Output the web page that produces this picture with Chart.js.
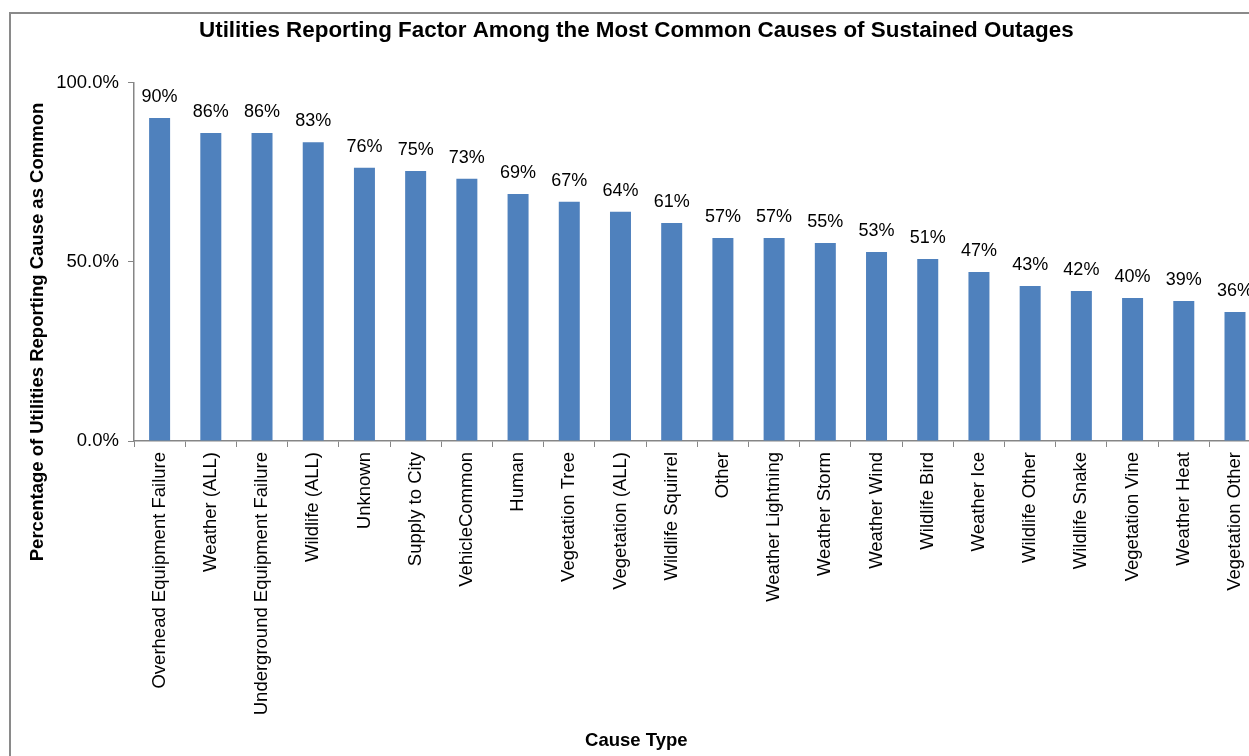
<!DOCTYPE html>
<html>
<head>
<meta charset="utf-8">
<script src="https://cdn.jsdelivr.net/npm/chart.js@4.4.0/dist/chart.umd.min.js"></script>
<style>
  html, body { margin: 0; padding: 0; background: #fff; width: 1249px; height: 756px; overflow: hidden; }
  #frame { position: absolute; left: 9px; top: 12px; width: 1300px; height: 800px; border: 2px solid #8a8a8a; box-sizing: border-box; }
  #chart { position: absolute; left: 0; top: 0; }
</style>
</head>
<body>
<div id="frame"></div>
<canvas id="chart" width="1270" height="756"></canvas>
<script>
// values (percent of utilities)
const causes = [
  "Overhead Equipment Failure", "Weather (ALL)", "Underground Equipment Failure", "Wildlife (ALL)",
  "Unknown", "Supply to City", "VehicleCommon", "Human", "Vegetation Tree", "Vegetation (ALL)",
  "Wildlife Squirrel", "Other", "Weather Lightning", "Weather Storm", "Weather Wind", "Wildlife Bird",
  "Weather Ice", "Wildlife Other", "Wildlife Snake", "Vegetation Vine", "Weather Heat", "Vegetation Other"
];
const pctReporting = [
  90.2, 86.0, 86.0, 83.4, 76.3, 75.4, 73.2, 69.0, 66.8, 64.0, 60.9,
  56.7, 56.7, 55.3, 52.8, 50.8, 47.2, 43.3, 41.9, 39.9, 39.1, 36.0
];
const yTicks = [0, 50, 100];

const FONT = "Arial, 'Liberation Sans', sans-serif";
const axisGray = "#868686";

// percent labels above each bar
const barLabels = {
  id: "barLabels",
  afterDatasetsDraw(chart) {
    const ctx = chart.ctx;
    const meta = chart.getDatasetMeta(0);
    ctx.save();
    ctx.font = "18px " + FONT;
    ctx.fillStyle = "#000";
    ctx.textAlign = "center";
    ctx.textBaseline = "alphabetic";
    meta.data.forEach((bar, i) => {
      ctx.fillText(Math.round(pctReporting[i]) + "%", bar.x, bar.y - 16);
    });
    ctx.restore();
  }
};

// y axis title, centred on the whole chart like the original
const yTitle = {
  id: "yTitle",
  afterDraw(chart) {
    const ctx = chart.ctx;
    ctx.save();
    ctx.translate(38, 332);
    ctx.rotate(-Math.PI / 2);
    ctx.font = "bold 18.5px " + FONT;
    ctx.fillStyle = "#000";
    ctx.textAlign = "center";
    ctx.textBaseline = "middle";
    ctx.fillText("Percentage of Utilities Reporting Cause as Common", 0, 0);
    ctx.restore();
  }
};

new Chart(document.getElementById("chart").getContext("2d"), {
  type: "bar",
  data: {
    labels: causes,
    datasets: [{
      data: pctReporting,
      backgroundColor: "#4F81BD",
      categoryPercentage: 1,
      barPercentage: 0.41
    }]
  },
  options: {
    responsive: false,
    devicePixelRatio: 1,
    animation: false,
    layout: { padding: { left: 12, right: 9.4, top: 0, bottom: 0 } },
    plugins: {
      legend: { display: false },
      tooltip: { enabled: false },
      title: {
        display: true,
        text: "Utilities Reporting Factor Among the Most Common Causes of Sustained Outages",
        color: "#000",
        font: { family: FONT, size: 22.4, weight: "bold" },
        padding: { top: 17, bottom: 39 }
      },
      subtitle: {
        display: true,
        position: "bottom",
        text: "Cause Type",
        color: "#000",
        font: { family: FONT, size: 18.5, weight: "bold" },
        padding: { top: 0, bottom: 3.9 }
      }
    },
    scales: {
      x: {
        grid: { display: true, drawOnChartArea: false, color: axisGray, tickLength: 6, offset: true },
        border: { color: axisGray, width: 1.5 },
        ticks: {
          autoSkip: false, maxRotation: 90, minRotation: 90, padding: 5,
          color: "#000", font: { family: FONT, size: 18.5 }
        },
        afterFit(scale) { scale.height = 288.9; }
      },
      y: {
        min: 0, max: 100,
        afterBuildTicks(scale) { scale.ticks = yTicks.map(v => ({ value: v })); },
        grid: { display: true, drawOnChartArea: false, color: axisGray, tickLength: 6 },
        border: { color: axisGray, width: 1.5 },
        ticks: {
          padding: 9, color: "#000", font: { family: FONT, size: 18.5 },
          callback: v => v.toFixed(1) + "%"
        },
        afterFit(scale) { scale.width = 122; }
      }
    }
  },
  plugins: [barLabels, yTitle]
});
</script>
</body>
</html>
